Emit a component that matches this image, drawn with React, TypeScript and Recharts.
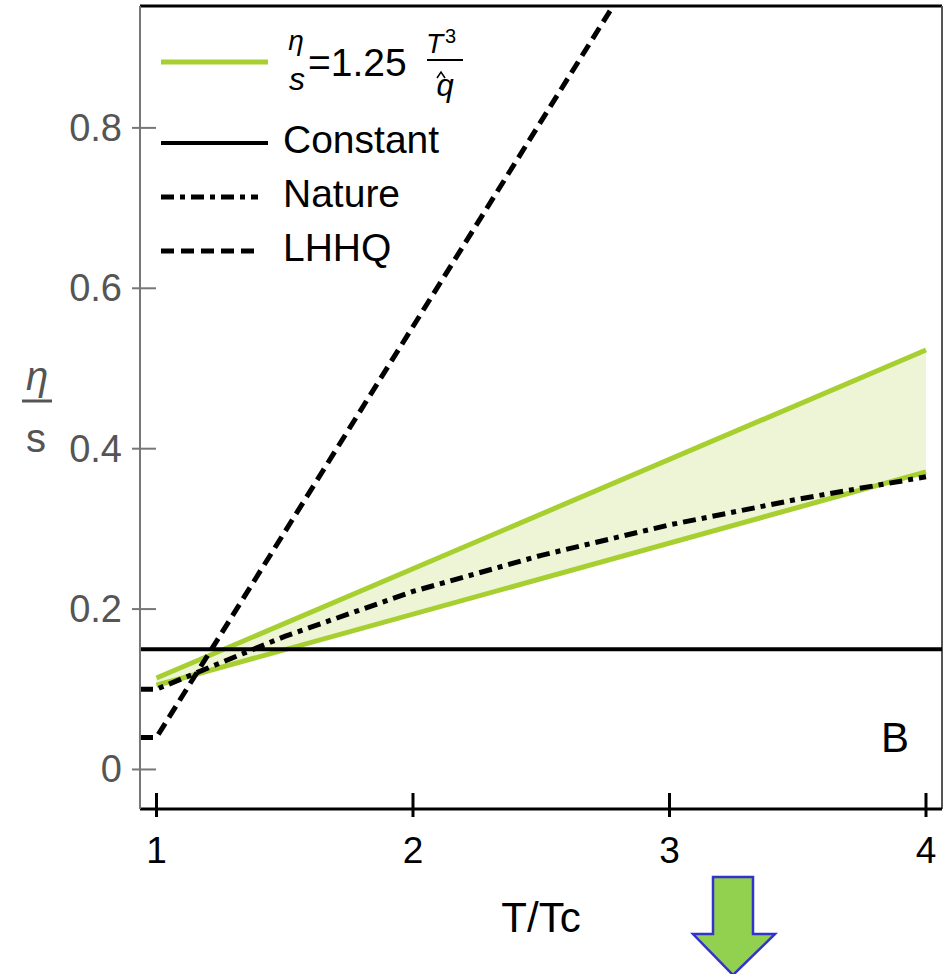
import React from 'react';
import { ComposedChart, Line, Area, XAxis, YAxis, ReferenceLine } from 'recharts';

const X_MIN = 0.9357;
const X_MAX = 4.0624;
const Y_MIN = -0.0493;
const Y_MAX = 0.952;

const xTicks = [1, 2, 3, 4];
const yTicks = [0, 0.2, 0.4, 0.6, 0.8];

// eta/s = 1.25 T^3 / qhat band
const bandT = [1, 4];
const bandLow = [0.105, 0.371];
const bandHigh = [0.114, 0.523];

const constT = [X_MIN, X_MAX];
const constVals = [0.15, 0.15];

const natureT = [X_MIN, 1, 1.5, 2, 2.5, 3, 3.5, 4];
const natureVals = [0.1, 0.1, 0.166, 0.222, 0.267, 0.305, 0.337, 0.365];

const lhhqT = [X_MIN, 1, 2.78];
const lhhqVals = [0.04, 0.04, 0.952];

const FONT = '"Liberation Sans", Arial, Helvetica, sans-serif';
const GREEN = '#a6cf2f';
const BAND_FILL = '#eef5d6';

const bandData = bandT.map((t, i) => ({ t, low: bandLow[i], high: bandHigh[i], range: [bandLow[i], bandHigh[i]] }));
const constData = constT.map((t, i) => ({ t, v: constVals[i] }));
const natureData = natureT.map((t, i) => ({ t, v: natureVals[i] }));
const lhhqData = lhhqT.map((t, i) => ({ t, v: lhhqVals[i] }));

const XTick = (props: any) => {
  const { x, y, payload } = props;
  return (
    <g>
      <line x1={x} x2={x} y1={y - 16} y2={y + 8} stroke="#000" strokeWidth={3} />
      <text x={x} y={y + 54} textAnchor="middle" fontSize={37} fill="#000" fontFamily={FONT}>
        {String(payload.value)}
      </text>
    </g>
  );
};

const YTick = (props: any) => {
  const { x, y, payload } = props;
  return (
    <g>
      <line x1={x - 8} x2={x + 16} y1={y} y2={y} stroke="#777" strokeWidth={2} />
      <text x={x - 18} y={y + 13} textAnchor="end" fontSize={38} fill="#555" fontFamily={FONT}>
        {String(payload.value)}
      </text>
    </g>
  );
};

const Overlay = () => (
  <svg width={943} height={974} style={{ position: 'absolute', left: 0, top: 0, pointerEvents: 'none' }}>
    {/* legend */}
    <line x1={161} x2={268} y1={62} y2={62} stroke={GREEN} strokeWidth={5} />
    <text x={296} y={50} textAnchor="middle" fontSize={28} fontStyle="italic" fontFamily={FONT}>η</text>
    <text x={297} y={90} textAnchor="middle" fontSize={32} fontStyle="italic" fontFamily={FONT}>s</text>
    <text x={308} y={76} fontSize={39} fontFamily={FONT}>=1.25</text>
    <text x={426} y={53} fontSize={28} fontStyle="italic" fontFamily={FONT}>T</text>
    <text x={445} y={43} fontSize={20} fontFamily={FONT}>3</text>
    <line x1={427} x2={463} y1={60} y2={60} stroke="#000" strokeWidth={2} />
    <polyline points="437,78 441,72 445,78" fill="none" stroke="#000" strokeWidth={1.5} />
    <text x={445} y={96} textAnchor="middle" fontSize={31} fontStyle="italic" fontFamily={FONT}>q</text>

    <line x1={161} x2={268} y1={143} y2={143} stroke="#000" strokeWidth={4} />
    <text x={283} y={153} fontSize={39} fontFamily={FONT}>Constant</text>
    <line x1={161} x2={258} y1={197} y2={197} stroke="#000" strokeWidth={5} strokeDasharray="13 6 5 6" />
    <text x={283} y={207} fontSize={39} fontFamily={FONT}>Nature</text>
    <line x1={161} x2={258} y1={251} y2={251} stroke="#000" strokeWidth={5} strokeDasharray="13 7" />
    <text x={283} y={261} fontSize={39} fontFamily={FONT}>LHHQ</text>

    {/* axis titles */}
    <text x={37} y={390} textAnchor="middle" fontSize={40} fontStyle="italic" fill="#555" fontFamily={FONT}>η</text>
    <line x1={22} x2={52} y1={401} y2={401} stroke="#555" strokeWidth={3} />
    <text x={36} y={452} textAnchor="middle" fontSize={40} fill="#555" fontFamily={FONT}>s</text>
    <text x={541} y={932} textAnchor="middle" fontSize={42} fill="#000" fontFamily={FONT}>T/Tc</text>
    <text x={881} y={752} fontSize={42} fill="#000" fontFamily={FONT}>B</text>

    {/* arrow */}
    <polygon
      points="713,877 753,877 753,934 775,934 733,975 693,934 713,934"
      fill="#92d050"
      stroke="#3333cc"
      strokeWidth={2.5}
    />
  </svg>
);

const App: React.FC = () => {
  return (
    <div style={{ position: 'absolute', left: 0, top: 0, width: 943, height: 974, background: '#fff' }}>
      <ComposedChart width={943} height={974} margin={{ top: 6, right: 1, left: 80, bottom: 135 }}>
        <XAxis
          type="number"
          dataKey="t"
          domain={[X_MIN, X_MAX]}
          ticks={xTicks}
          interval={0}
          allowDataOverflow
          height={30}
          tickSize={0}
          tickMargin={0}
          tickLine={false}
          axisLine={{ stroke: '#000', strokeWidth: 3 }}
          tick={<XTick />}
        />
        <YAxis
          type="number"
          domain={[Y_MIN, Y_MAX]}
          ticks={yTicks}
          interval={0}
          allowDataOverflow
          width={60}
          tickSize={0}
          tickMargin={0}
          tickLine={false}
          axisLine={{ stroke: '#777', strokeWidth: 2 }}
          tick={<YTick />}
        />
        <ReferenceLine y={Y_MAX} stroke="#000" strokeWidth={3} />
        <ReferenceLine x={X_MAX} stroke="#555" strokeWidth={2} />
        <Area
          data={bandData}
          dataKey="range"
          type="linear"
          stroke="none"
          fill={BAND_FILL}
          fillOpacity={1}
          isAnimationActive={false}
        />
        <Line data={bandData} dataKey="high" type="linear" stroke={GREEN} strokeWidth={5} dot={false} isAnimationActive={false} />
        <Line data={bandData} dataKey="low" type="linear" stroke={GREEN} strokeWidth={5} dot={false} isAnimationActive={false} />
        <Line data={constData} dataKey="v" type="linear" stroke="#000" strokeWidth={4} dot={false} isAnimationActive={false} />
        <Line
          data={natureData}
          dataKey="v"
          type="linear"
          stroke="#000"
          strokeWidth={5}
          strokeDasharray="13 6 5 6"
          dot={false}
          isAnimationActive={false}
        />
        <Line
          data={lhhqData}
          dataKey="v"
          type="linear"
          stroke="#000"
          strokeWidth={5}
          strokeDasharray="13 7"
          dot={false}
          isAnimationActive={false}
        />
      </ComposedChart>
      <Overlay />
    </div>
  );
};

export default App;
